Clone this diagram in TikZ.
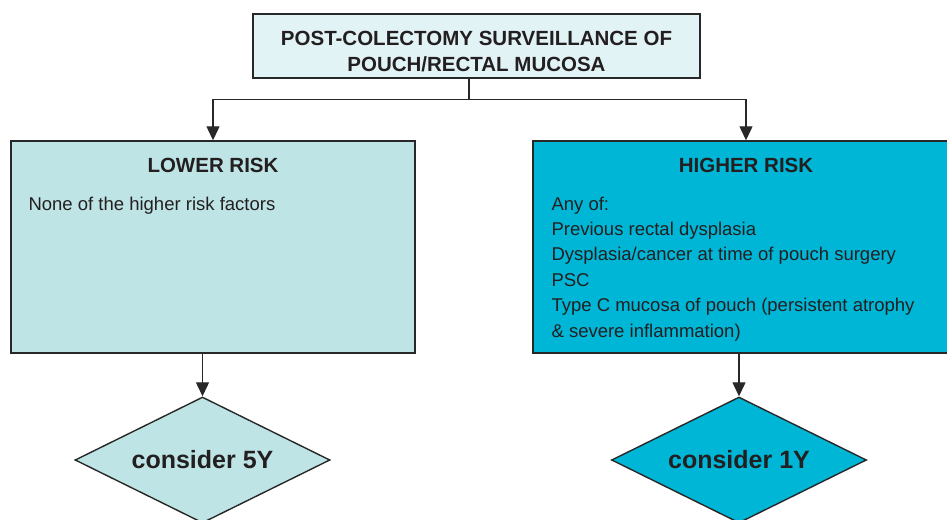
\documentclass[tikz,border=0pt]{standalone}
\usepackage{fontspec}
\setmainfont{Liberation Sans}
\usetikzlibrary{shapes.geometric,arrows.meta}
\definecolor{topfill}{RGB}{226,243,246}
\definecolor{lowfill}{RGB}{191,228,229}
\definecolor{highfill}{RGB}{0,182,214}
\definecolor{edge}{RGB}{40,40,40}
\definecolor{ink}{RGB}{35,31,32}
\tikzset{
  box/.style={draw=edge,line width=1.4pt,inner sep=0pt},
  link/.style={draw=edge,line width=1.2pt},
  arr/.style={link,-{Triangle[length=14pt,width=13pt]}},
  head/.style={text=ink,font=\fontsize{20.5}{25}\selectfont\bfseries,anchor=base,align=center},
  body/.style={text=ink,font=\fontsize{18.5}{25.4}\selectfont,anchor=base west,align=left},
  choice/.style={diamond,aspect=2,draw=edge,line width=1.4pt,minimum width=255pt,minimum height=126pt,
    inner sep=0pt,text=ink,font=\fontsize{25}{28}\selectfont\bfseries}
}
\begin{document}
\begin{tikzpicture}[x=1pt,y=-1pt]
\useasboundingbox (0,0) rectangle (947,519);
\clip (0,0) rectangle (947,519);
\node[box,fill=topfill,minimum width=447pt,minimum height=64pt] (top) at (476.5,46) {};
\node[head] (toptxt) at (476.5,71) {POST-COLECTOMY SURVEILLANCE OF\\POUCH/RECTAL MUCOSA};
\node[box,fill=lowfill,minimum width=404pt,minimum height=212pt] (low) at (213,247) {};
\node[box,fill=highfill,minimum width=426pt,minimum height=212pt] (high) at (746,247) {};
\node[head] (lowhead) at (213,172) {LOWER RISK};
\node[head] (highhead) at (746,172) {HIGHER RISK};
\node[body] (lowbody) at (25,210) {None of the higher risk factors};
\node[body] (highbody) at (548,337) {Any of:\\Previous rectal dysplasia\\Dysplasia/cancer at time of pouch surgery\\PSC\\Type C mucosa of pouch (persistent atrophy\\\& severe inflammation)};
\node[choice,fill=lowfill] (five) at (202.5,460) {consider 5Y};
\node[choice,fill=highfill] (one) at (739,460) {consider 1Y};
\draw[link] ([xshift=-7.5pt]top.south) -- ++(0,21) coordinate (fork);
\draw[arr] (fork) -| (low.north);
\draw[arr] (fork) -| (high.north);
\draw[arr] (five |- low.south) -- (five.north);
\draw[arr] (one |- high.south) -- (one.north);
\end{tikzpicture}
\end{document}
